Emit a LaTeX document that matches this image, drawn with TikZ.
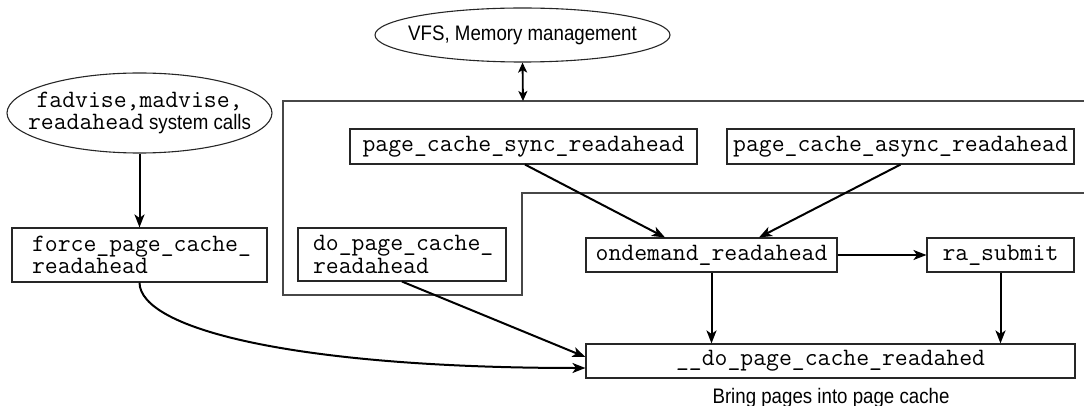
\documentclass[tikz,border=0pt]{standalone}
\usepackage{fontspec}
\setmainfont{Liberation Sans}[FakeStretch=0.89]
\usetikzlibrary{shapes.geometric,arrows.meta}
\newcommand\monosz{\ttfamily\fontsize{25pt}{22.5pt}\selectfont}
\newcommand\sanssz{\rmfamily\fontsize{21pt}{23pt}\selectfont}
\begin{document}
\begin{tikzpicture}[x=1pt,y=-1pt,
  box/.style={draw=black!85, line width=1.1pt, rectangle, inner sep=0pt, font=\monosz, text=black},
  oval/.style={draw=black!85, line width=1.1pt, ellipse, inner sep=0pt},
  arr/.style={line width=2pt, -{Stealth[length=13pt,width=10pt,inset=3.5pt]}},
  dbl/.style={line width=1.8pt, {Stealth[length=10pt,width=9pt,inset=2.5pt]}-{Stealth[length=10pt,width=9pt,inset=2.5pt]}},
  frame/.style={draw=black!72, line width=1.4pt}]
\useasboundingbox (0,0) rectangle (1084,406);

\node[oval, minimum width=295pt, minimum height=54pt] (vfs) at (522.5,35) {};
\node[font=\sanssz, inner sep=0pt] (vfstxt) at (vfs.center) {VFS, Memory management};
\node[oval, minimum width=265pt, minimum height=80pt] (sys) at (139.5,113) {};
\node[align=center, font=\monosz, inner sep=0pt] (systxt) at (sys.center) {fadvise,madvise,\\readahead{\sanssz{} system calls}};

\node[box, minimum width=255pt, minimum height=54pt, text width=215pt, inner xsep=20pt, align=left] (force) at (139.5,255) {force\_page\_cache\_\\readahead};
\node[box, minimum width=208pt, minimum height=53pt, text width=178pt, inner xsep=15pt, align=left] (dopc) at (402,254.5) {do\_page\_cache\_\\readahead};
\node[box, minimum width=347pt, minimum height=35pt] (sync) at (523.5,146.5) {page\_cache\_sync\_readahead};
\node[box, minimum width=347pt, minimum height=35pt] (async) at (900.5,146.5) {page\_cache\_async\_readahead};
\node[box, minimum width=251pt, minimum height=34pt] (onde) at (711.5,255) {ondemand\_readahead};
\node[box, minimum width=147pt, minimum height=34pt] (ra) at (1000.5,255) {ra\_submit};
\node[box, minimum width=489pt, minimum height=34pt] (dodo) at (830.5,361) {\_\_do\_page\_cache\_readahed};
\node[font=\sanssz, anchor=base, inner sep=0pt] (cap) at (831,403) {Bring pages into page cache};

\draw[frame] (1084,101) -- (283,101) -- (283,295) -- (522,295) -- (522,193) -- (1084,193);
\coordinate (ftop) at (523,101);

\draw[dbl] (vfs.south) -- (ftop);
\draw[arr] (sys.south) -- (force.north);
\draw[arr] (sync.south -| 525,0) -- (onde.north -| 665,0);
\draw[arr] (async.south) -- (onde.north -| 759,0);
\draw[arr] (onde.east) -- (ra.west);
\draw[arr] (onde.south) -- (dodo.north -| onde.south);
\draw[arr] (ra.south) -- (dodo.north -| ra.south);
\draw[arr] (dopc.south) -- ([yshift=4pt]dodo.west);
\draw[arr] (force.south) .. controls (140,330) and (300,368) .. ([yshift=-7pt]dodo.west);
\end{tikzpicture}
\end{document}
